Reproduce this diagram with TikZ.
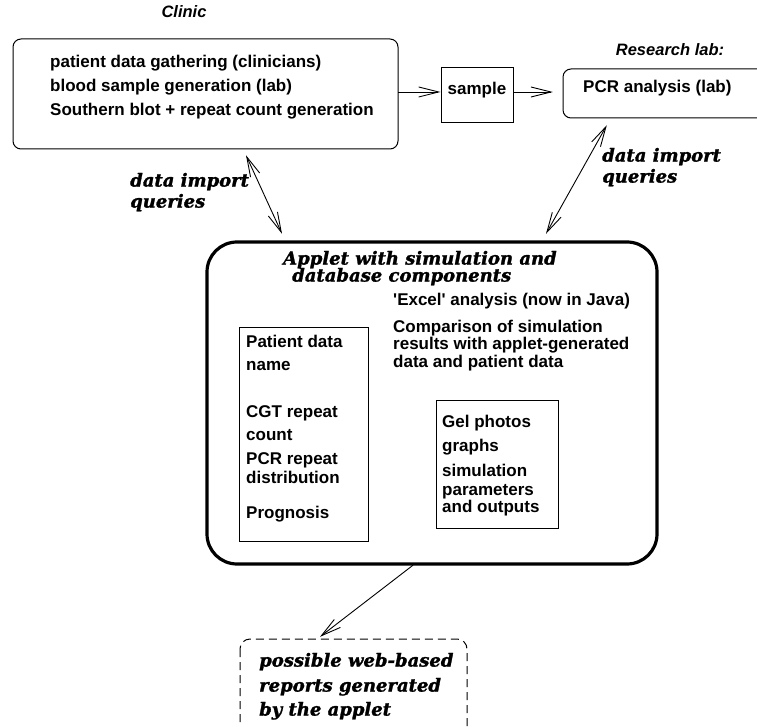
\documentclass[tikz,border=0pt]{standalone}
\usepackage{fontspec}
\setmainfont{DejaVu Serif}[BoldItalicFeatures={FakeBold=1.5}]
\newfontfamily\hvfont{Liberation Sans}
\usetikzlibrary{arrows.meta}
\tikzset{
  sanstxt/.style={font=\hvfont\bfseries\fontsize{17}{20}\selectfont, inner sep=0pt, anchor=mid west},
  headtxt/.style={font=\hvfont\bfseries\itshape\fontsize{16.5}{19}\selectfont, inner sep=0pt, anchor=mid},
  sertxt/.style={font=\bfseries\itshape\fontsize{18}{21}\selectfont, inner sep=0pt, anchor=mid west, yshift=-2pt},
  thinbox/.style={draw, line width=1pt, rounded corners=8pt},
  plainbox/.style={draw, line width=1pt},
  arr/.style={line width=0.9pt, -{Straight Barb[length=20pt,width=10pt]}},
  dblarr/.style={line width=0.9pt, {Straight Barb[length=20pt,width=10pt]}-{Straight Barb[length=20pt,width=10pt]}},
}
\begin{document}
\begin{tikzpicture}[x=1pt,y=-1pt]
\useasboundingbox (0,0) rectangle (757,727);
% boxes
\draw[thinbox] (13,39) rectangle (398,149);
\path (13,39) rectangle (398,149) node[pos=0.5, inner sep=0pt, minimum width=385pt, minimum height=110pt] (clinic) {};
\node[plainbox, minimum width=72pt, minimum height=55pt, inner sep=0pt] (sample) at (477,95.5) {};
\draw[thinbox] (563,69) rectangle (820,118);
\path (563,69) rectangle (820,118) node[pos=0.5, inner sep=0pt, minimum width=257pt, minimum height=49pt] (research) {};
\draw[line width=3.2pt, rounded corners=30pt] (207,242) rectangle (657,564);
\path (207,242) rectangle (657,564) node[pos=0.5, inner sep=0pt, minimum width=450pt, minimum height=322pt] (applet) {};
\node[plainbox, minimum width=129pt, minimum height=214pt, inner sep=0pt] (patient) at (303.5,434) {};
\node[plainbox, minimum width=122pt, minimum height=128pt, inner sep=0pt] (gel) at (497,464) {};
\draw[line width=1pt, dash pattern=on 8pt off 5pt, rounded corners=10pt] (240,639) rectangle (467,780);
\path (240,639) rectangle (467,780) node[pos=0.5, inner sep=0pt, minimum width=227pt, minimum height=141pt] (report) {};

% headings
\node[headtxt] (clinichead) at (184,15) {Clinic};
\node[headtxt] (labhead) at (670,53) {Research lab:};

% clinic text
\node[sanstxt] (c1) at (50,65) {patient data gathering (clinicians)};
\node[sanstxt] (c2) at (50,89) {blood sample generation (lab)};
\node[sanstxt] (c3) at (50,113) {Southern blot + repeat count generation};
\node[sanstxt, anchor=mid] (s1) at (477,92) {sample};
\node[sanstxt] (r1) at (583,90) {PCR analysis (lab)};

% queries labels
\node[sertxt] (q1) at (602,157) {data import};
\node[sertxt] (q2) at (602,178) {queries};
\node[sertxt] (q3) at (130,182) {data import};
\node[sertxt] (q4) at (130,203) {queries};

% applet text
\node[sertxt] (t1) at (283,260) {Applet with simulation and};
\node[sertxt] (t2) at (292,277) {database components};
\node[sanstxt] (e1) at (393,303) {'Excel' analysis (now in Java)};
\node[sanstxt] (e2) at (393,330) {Comparison of simulation};
\node[sanstxt] (e3) at (393,347) {results with applet-generated};
\node[sanstxt] (e4) at (393,365) {data and patient data};

\node[sanstxt] (p1) at (246,345) {Patient data};
\node[sanstxt] (p2) at (246,368) {name};
\node[sanstxt] (p3) at (246,415) {CGT repeat};
\node[sanstxt] (p4) at (246,438) {count};
\node[sanstxt] (p5) at (246,462) {PCR repeat};
\node[sanstxt] (p6) at (246,481) {distribution};
\node[sanstxt] (p7) at (246,516) {Prognosis};

\node[sanstxt] (g1) at (442,425) {Gel photos};
\node[sanstxt] (g2) at (442,449) {graphs};
\node[sanstxt] (g3) at (442,474) {simulation};
\node[sanstxt] (g4) at (442,493) {parameters};
\node[sanstxt] (g5) at (442,510) {and outputs};

\node[sertxt] (b1) at (259,662) {possible web-based};
\node[sertxt] (b2) at (259,687) {reports generated};
\node[sertxt] (b3) at (259,711) {by the applet};

% connectors
\draw[arr] ([yshift=2pt]clinic.east) coordinate (cs) -- (sample.west |- cs);
\draw[arr] (sample.east |- cs) -- ([xshift=-10pt]research.west |- cs);
\draw[dblarr] ([shift={(40.5pt,-6pt)}]clinic.south) -- ([shift={(-150pt,8pt)}]applet.north);
\draw[dblarr] ([shift={(44pt,-7pt)}]research.south west) -- ([shift={(114pt,8pt)}]applet.north);
\draw[arr] ([shift={(-19pt,-1pt)}]applet.south) -- ([shift={(-33.5pt,2pt)}]report.north);
\end{tikzpicture}
\end{document}
